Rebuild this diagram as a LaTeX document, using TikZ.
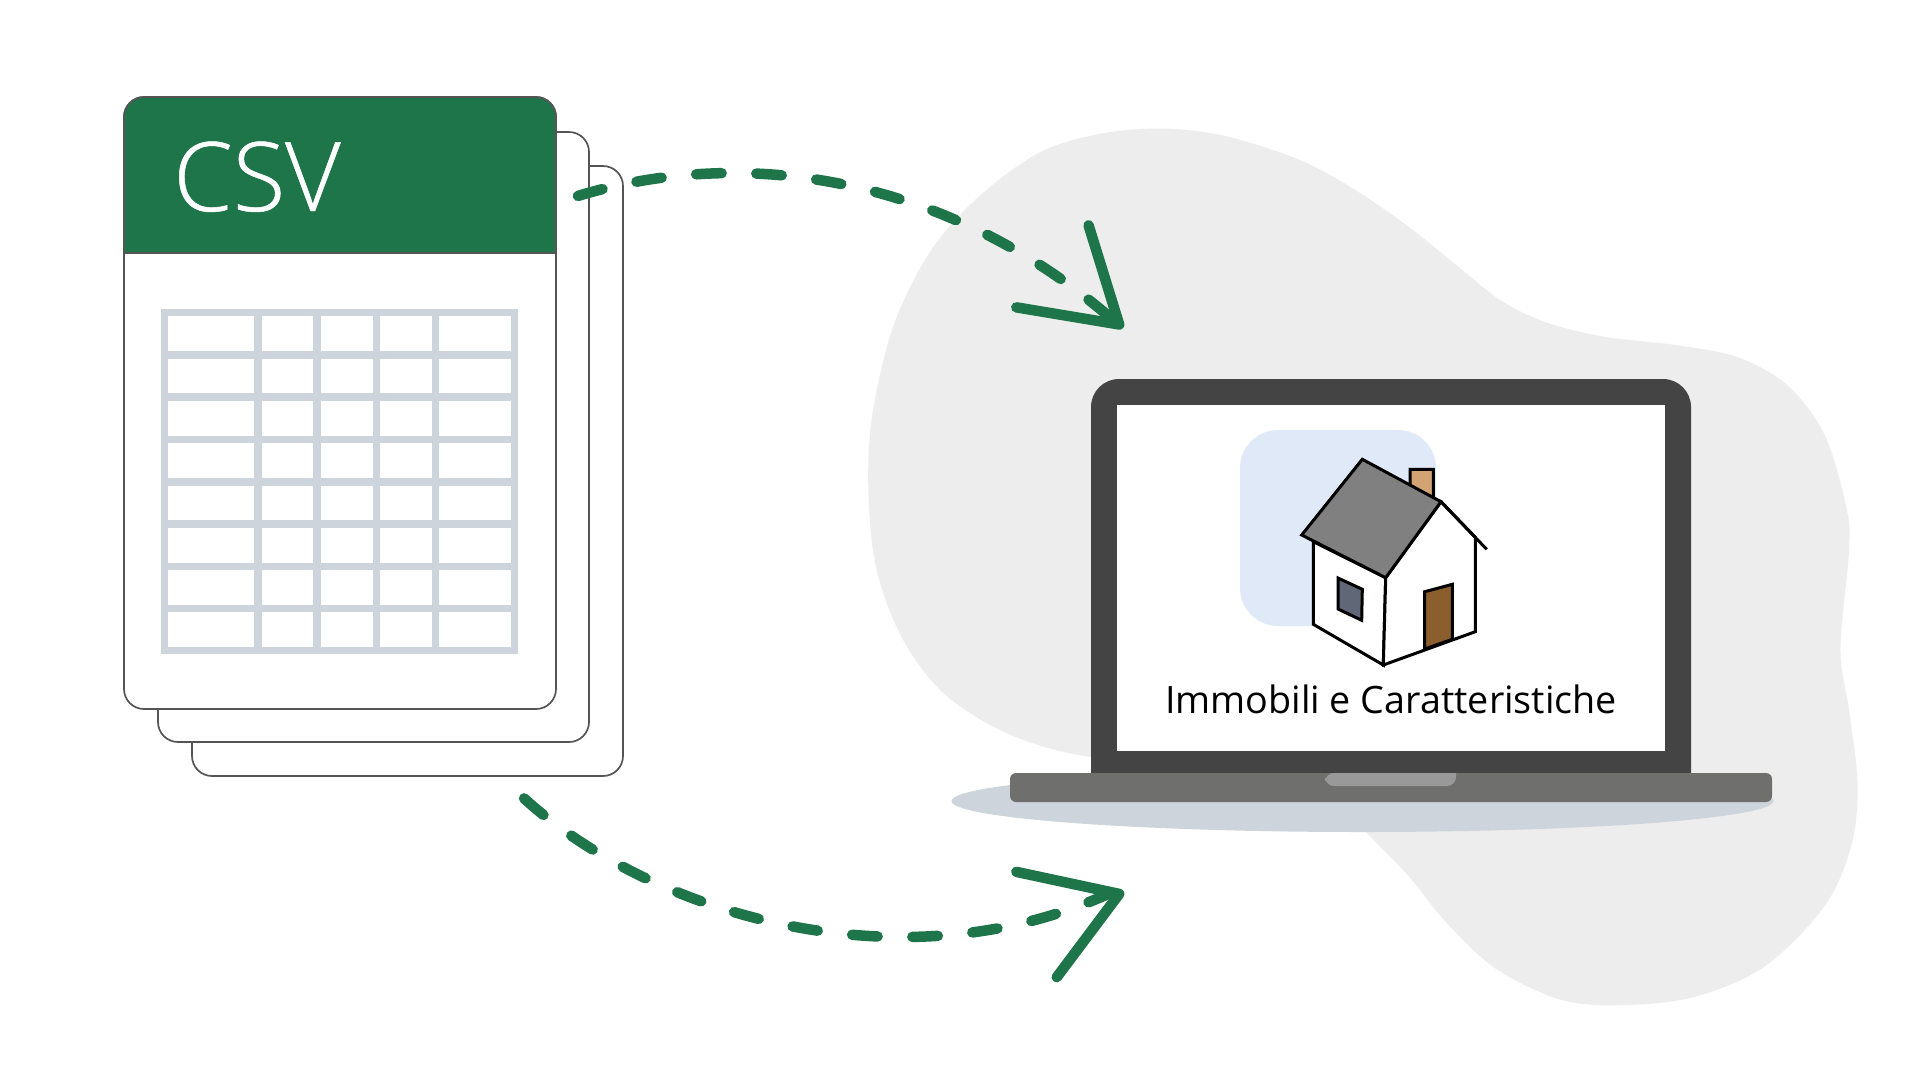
\documentclass[tikz,border=0pt]{standalone}
\usepackage{fontspec}
\setmainfont{Open Sans}
\newfontfamily\lightfont[FakeBold=0.5]{Open Sans Light}
\definecolor{csvgreen}{HTML}{1E7549}
\definecolor{pageline}{HTML}{555555}
\definecolor{gridgrey}{HTML}{CDD4DB}
\definecolor{blobgrey}{HTML}{EDEDED}
\definecolor{bezel}{HTML}{444444}
\definecolor{basegrey}{HTML}{6F6F6E}
\definecolor{notchgrey}{HTML}{999999}
\definecolor{iconblue}{HTML}{E0E9F7}
\definecolor{roofgrey}{HTML}{808080}
\definecolor{chimney}{HTML}{D4A373}
\definecolor{doorbrown}{HTML}{8B5E2E}
\definecolor{windowgrey}{HTML}{606878}
\tikzset{
  sheet/.style={draw=pageline,line width=1.7pt,fill=white,rounded corners=20pt},
  flowdash/.style={draw=csvgreen,line width=10.5pt,line cap=round,dash pattern=on 25.5pt off 34.7pt},
  flowhead/.style={draw=csvgreen,line width=10.5pt,line cap=round,line join=round},
  houseline/.style={draw=black,line width=3pt,line join=miter},
}
\begin{document}
\begin{tikzpicture}[x=1pt,y=-1pt]
\useasboundingbox (0,0) rectangle (1920,1080);
\fill[white] (0,0) rectangle (1920,1080);
% blob
\begin{scope}[x=1.2245pt,y=-1.2245pt]
\fill[blobgrey] plot[smooth cycle,tension=0.55] coordinates {
 (950,105) (1000,111) (1060,130) (1105,154) (1150,185) (1190,217) (1225,245) (1262,263) (1310,275) (1370,282) (1420,292) (1460,315) (1490,355) (1508,415) (1510,450)
 (1503,530) (1510,580) (1517,640) (1512,690) (1490,740) (1440,790) (1380,815) (1315,821) (1270,815) (1220,790) (1180,752) (1150,715) (1118,682) (1090,650)
 (1000,625) (890,618) (825,600) (775,570) (745,535) (725,495) (713,450) (709,390) (713,335) (730,265) (760,205) (800,160) (850,124) (900,109)};
\end{scope}
% pages
\draw[sheet] (192,166) rectangle (623,776);
\draw[sheet] (158,132) rectangle (589,742);
\draw[sheet] (124,97) rectangle (556,709);
\filldraw[fill=csvgreen,draw=pageline,line width=1.7pt,rounded corners=20pt] (124,253) [sharp corners] -- (124,170) [rounded corners=20pt] -- (124,97) -- (556,97) -- (556,170) [sharp corners] -- (556,253) -- cycle;
\node[anchor=base west,inner sep=0pt,text=white,font=\lightfont\fontsize{96}{96}\selectfont] (csv) at (173,211) {CSV};
% table
\fill[gridgrey] (161,309) rectangle (518,654);
\foreach \r in {0,...,7}{
  \foreach \a/\b in {168/254,262/313,321/373,380/432,439/511}{
    \fill[white] (\a,316.3+42.3*\r) rectangle (\b,351+42.3*\r);
  }
}
% laptop
\fill[gridgrey] (1362.5,801) ellipse[x radius=411,y radius=31];
\fill[bezel,rounded corners=28pt] (1091,500) -- (1091,379) -- (1691,379) -- (1691,500) [sharp corners] -- (1691,773) -- (1091,773) -- cycle;
\fill[white] (1117,405) rectangle (1665,751);
\fill[basegrey,rounded corners=6pt] (1010,773) rectangle (1772,802);
\fill[notchgrey,rounded corners=9pt] (1325,773) [sharp corners] -- (1456,773) [rounded corners=9pt] -- (1456,786) -- (1325,786) -- cycle;
% house
\fill[iconblue,rounded corners=38pt] (1240,430) rectangle (1436,626);
\filldraw[fill=chimney,houseline] (1410,490) -- (1410,469.3) -- (1433.3,469.3) -- (1433.3,505) -- cycle;
\filldraw[fill=white,houseline] (1313.3,541.7) -- (1313.3,624.3) -- (1383.3,665) -- (1385.7,577.7) -- cycle;
\filldraw[fill=white,houseline] (1385.7,577.7) -- (1441,501.7) -- (1475.3,537.3) -- (1475.3,631.7) -- (1383.3,665) -- cycle;
\draw[houseline] (1441,501.7) -- (1486.7,549.3);
\filldraw[fill=roofgrey,houseline] (1362.3,459.3) -- (1441,501.7) -- (1385.7,577.7) -- (1301.7,535) -- cycle;
\filldraw[fill=windowgrey,houseline] (1338,578) -- (1362.3,589.3) -- (1361.7,620.3) -- (1338,609) -- cycle;
\filldraw[fill=doorbrown,houseline] (1424.7,591.7) -- (1452.3,584.3) -- (1452.3,639.3) -- (1424.7,649) -- cycle;
\node[anchor=base,inner sep=0pt,font=\fontsize{37.7}{38}\selectfont] (label) at (1391,713) {Immobili e Caratteristiche};
% connectors
\begin{scope}[x=1.2245pt,y=-1.2245pt]
\coordinate (aS) at (472,160);
\coordinate (aE) at (912,264);
\coordinate (aH1) at (889,184);
\coordinate (aT) at (914,265);
\coordinate (aH2) at (830,251);
\coordinate (bS) at (428,652);
\coordinate (bE) at (905,730);
\coordinate (bH1) at (830,712);
\coordinate (bT) at (914,730);
\coordinate (bH2) at (863,798);
\draw[flowdash] (aS) .. controls (620,115) and (786,152) .. (aE);
\draw[flowhead] (aH1) -- (aT) -- (aH2);
\draw[flowdash] (bS) .. controls (530,745) and (733,808) .. (bE);
\draw[flowhead] (bH1) -- (bT) -- (bH2);
\end{scope}
\end{tikzpicture}
\end{document}
